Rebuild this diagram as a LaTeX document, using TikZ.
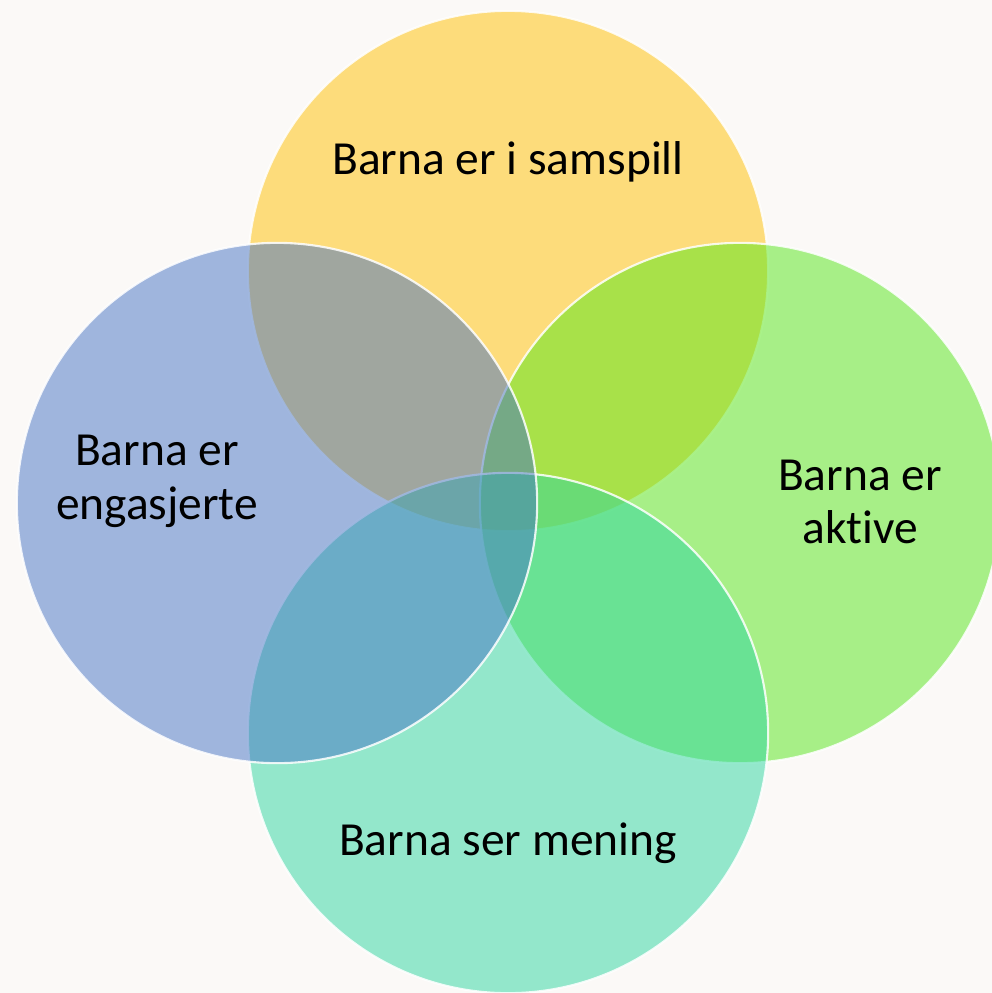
\documentclass[tikz,border=0pt]{standalone}
\usepackage{fontspec}
\setmainfont[Ligatures=NoCommon]{Carlito}
\definecolor{bgc}{RGB}{251,249,247}
\definecolor{cyel}{RGB}{255,192,0}
\definecolor{cblu}{RGB}{68,114,196}
\definecolor{cgrn}{RGB}{85,231,25}
\definecolor{ctea}{RGB}{45,215,161}
\begin{document}
\begin{tikzpicture}[x=0.01cm,y=-0.01cm,
  ring/.style={circle,inner sep=0pt,minimum size=5.2cm,draw=white,draw opacity=0.85,line width=0.6pt,fill opacity=0.5},
  lbl/.style={font=\fontsize{13.5}{15.3}\selectfont,text=black,align=center,inner sep=0pt}]
\fill[bgc] (0,0) rectangle (992,993);
\useasboundingbox (0,0) rectangle (992,993);
\node[ring,fill=cyel] (top) at (508,271) {};
\node[ring,fill=cgrn] (right) at (740,503) {};
\node[ring,fill=ctea] (bottom) at (508,733) {};
\node[ring,fill=cblu] (left) at (277,503) {};
\node[lbl] (ttop) at (508,162) {Barna er i samspill};
\node[lbl] (tleft) at (157,481) {Barna er\\engasjerte};
\node[lbl] (tright) at (860,502) {Barna er\\aktive};
\node[lbl] (tbottom) at (508,843) {Barna ser mening};
\end{tikzpicture}
\end{document}
